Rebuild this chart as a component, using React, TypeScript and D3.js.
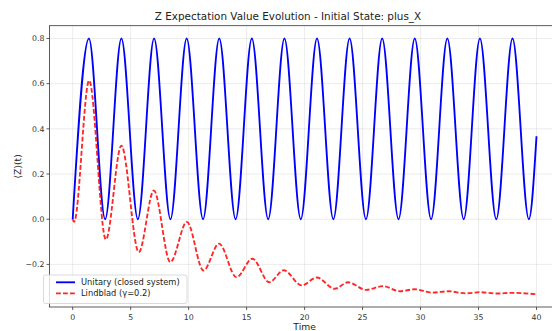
import React from "react";
import * as d3 from "d3";

// Data
const unitaryT = [0, 1.4, 2.8, 4.2, 5.62, 7.02, 8.43, 9.83, 11.24, 12.64, 14.05, 15.45, 16.86, 18.26, 19.67, 21.07, 22.48, 23.88, 25.29, 26.69, 28.1, 29.5, 30.91, 32.31, 33.72, 35.12, 36.53, 37.93, 39.34, 40];
const unitaryZ = [0, 0.8, 0, 0.8, 0, 0.8, 0, 0.8, 0, 0.8, 0, 0.8, 0, 0.8, 0, 0.8, 0, 0.8, 0, 0.8, 0, 0.8, 0, 0.8, 0, 0.8, 0, 0.8, 0, 0.367];

const lindbladT = [0, 0.12, 1.42, 2.86, 4.2, 5.7, 7.0, 8.42, 9.85, 11.28, 12.62, 14.12, 15.5, 16.95, 18.2, 19.75, 21.05, 22.6, 23.75, 25.3, 26.75, 28.2, 29.5, 31.0, 32.4, 33.9, 35.15, 36.6, 37.9, 40];
const lindbladZ = [0, -0.012, 0.614, -0.09, 0.326, -0.146, 0.127, -0.19, -0.012, -0.227, -0.108, -0.257, -0.175, -0.279, -0.226, -0.293, -0.258, -0.308, -0.279, -0.313, -0.296, -0.319, -0.31, -0.325, -0.319, -0.328, -0.323, -0.329, -0.326, -0.332];

const xTicks = [0, 5, 10, 15, 20, 25, 30, 35, 40];
const yTicks = [-0.2, 0.0, 0.2, 0.4, 0.6, 0.8];

const seriesLabels = ["Unitary (closed system)", "Lindblad (γ=0.2)"];
const titleText = "Z Expectation Value Evolution - Initial State: plus_X";

const W = 552, H = 331;
const left = 49.5, right = 559.7, top = 25.7, bottom = 307;
const FONT = "DejaVu Sans, sans-serif";

export default function App() {
  const allT = [...unitaryT, ...lindbladT];
  const allZ = [...unitaryZ, ...lindbladZ];
  const [tMin, tMax] = d3.extent(allT) as [number, number];
  const [zMin, zMax] = d3.extent(allZ) as [number, number];
  const tPad = (tMax - tMin) * 0.05;
  const zPad = (zMax - zMin) * 0.05;
  const x = d3.scaleLinear().domain([tMin - tPad, tMax + tPad]).range([left, right]);
  const y = d3.scaleLinear().domain([zMin - zPad, zMax + zPad]).range([bottom, top]);

  const mk = (ts: number[], zs: number[]) =>
    d3
      .line<[number, number]>()
      .x((d) => x(d[0]))
      .y((d) => y(d[1]))
      .curve(d3.curveMonotoneX)(ts.map((t, i) => [t, zs[i]] as [number, number])) || "";

  const uPath = mk(unitaryT, unitaryZ);
  const lPath = mk(lindbladT, lindbladZ);

  const fmt = (v: number) => v.toFixed(1).replace("-", "\u2212");

  return (
    <svg
      width={W}
      height={H}
      style={{ position: "absolute", left: 0, top: 0, background: "#fff" }}
      fontFamily={FONT}
    >
      <defs>
        <clipPath id="plotClip">
          <rect x={left} y={top} width={right - left} height={bottom - top} />
        </clipPath>
      </defs>
      <rect x={0} y={0} width={W} height={H} fill="#fff" />
      {/* grid */}
      <g stroke="#b0b0b0" strokeOpacity={0.3} strokeWidth={0.8}>
        {xTicks.map((t) => (
          <line key={"gx" + t} x1={x(t)} x2={x(t)} y1={top} y2={bottom} />
        ))}
        {yTicks.map((t) => (
          <line key={"gy" + t} x1={left} x2={right} y1={y(t)} y2={y(t)} />
        ))}
      </g>
      {/* curves */}
      <g clipPath="url(#plotClip)">
        <path d={uPath} fill="none" stroke="#0000ff" strokeWidth={1.85} strokeLinejoin="round" />
        <path
          d={lPath}
          fill="none"
          stroke="#ff0000"
          strokeOpacity={0.85}
          strokeWidth={1.85}
          strokeDasharray="4.8,2.2"
        />
      </g>
      {/* spines */}
      <rect x={left} y={top} width={right - left} height={bottom - top} fill="none" stroke="#333" strokeWidth={0.8} />
      {/* x ticks */}
      {xTicks.map((t) => (
        <g key={"xt" + t}>
          <line x1={x(t)} x2={x(t)} y1={bottom} y2={bottom + 3} stroke="#333" strokeWidth={0.8} />
          <text x={x(t)} y={319.5} fontSize={7.8} textAnchor="middle" fill="#333">
            {t}
          </text>
        </g>
      ))}
      {/* y ticks */}
      {yTicks.map((t) => (
        <g key={"yt" + t}>
          <line x1={left - 3} x2={left} y1={y(t)} y2={y(t)} stroke="#333" strokeWidth={0.8} />
          <text x={left - 5} y={y(t)} dy="0.35em" fontSize={7.8} textAnchor="end" fill="#333">
            {fmt(t)}
          </text>
        </g>
      ))}
      {/* axis labels */}
      <text x={(left + right) / 2} y={329.5} fontSize={9.2} textAnchor="middle" fill="#222">
        Time
      </text>
      <text
        transform={`translate(21,${(top + bottom) / 2}) rotate(-90)`}
        fontSize={9.2}
        textAnchor="middle"
        fill="#222"
      >
        ⟨Z⟩(t)
      </text>
      {/* title */}
      <text x={288} y={20} fontSize={10.4} textAnchor="middle" fill="#222">
        {titleText}
      </text>
      {/* legend */}
      <g>
        <rect x={43.5} y={275} width={143.5} height={28.5} rx={2} fill="#fff" fillOpacity={0.8} stroke="#d0d0d0" strokeWidth={0.8} />
        <line x1={56} x2={75} y1={282.3} y2={282.3} stroke="#0000ff" strokeWidth={1.85} />
        <line x1={56} x2={75} y1={293.3} y2={293.3} stroke="#ff0000" strokeOpacity={0.85} strokeWidth={1.85} strokeDasharray="4.8,2.2" />
        <text x={81} y={282.3} dy="0.35em" fontSize={8.3} fill="#222">
          {seriesLabels[0]}
        </text>
        <text x={81} y={293.3} dy="0.35em" fontSize={8.3} fill="#222">
          {seriesLabels[1]}
        </text>
      </g>
    </svg>
  );
}
